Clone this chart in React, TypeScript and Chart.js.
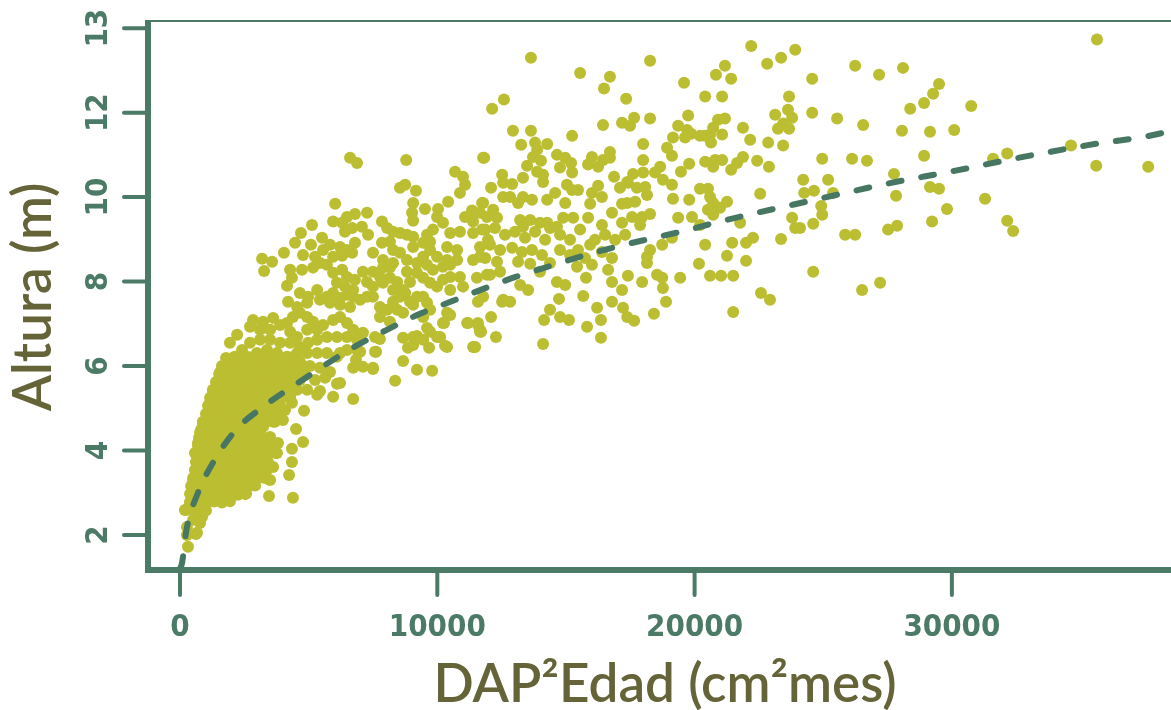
import { useEffect, useRef } from "react";
import { Chart, registerables } from "chart.js";

Chart.register(...registerables);

// ---- axis description ----
const xTickValues = [0, 10000, 20000, 30000];
const xTickLabels = ["0", "10000", "20000", "30000"];
const yTickValues = [2, 4, 6, 8, 10, 12, 14];
const yTickLabels = ["2", "4", "6", "8", "10", "12", "13"];
const xTitle = "DAP²Edad (cm²mes)";
const yTitle = "Altura (m)";

// ---- fitted curve ----
const curveX = [0, 80, 250, 680, 1320, 2180, 3290, 4410, 6740, 7950, 9190, 10460, 11890, 13040, 14340, 15670, 16990, 18310, 19670, 20970, 24920, 27500, 30090, 32670, 35280, 37740, 38600];
const curveY = [1.2, 1.34, 2.12, 2.97, 3.75, 4.49, 5.06, 5.53, 6.44, 6.83, 7.2, 7.51, 7.85, 8.11, 8.36, 8.61, 8.83, 9.02, 9.21, 9.42, 9.97, 10.32, 10.62, 10.94, 11.23, 11.46, 11.58];

// ---- observed trees [DAP²Edad, Altura] ----
const arbolesDispersos: number[][] = [
  [35640, 13.73], [26240, 13.11], [24570, 12.8], [27170, 12.9], [28100, 13.06], [29500, 12.68], [29270, 12.45], [28920, 12.23], [28380, 12.09], [30750, 12.16],
  [24570, 12.0], [25540, 11.86], [26550, 11.71], [28060, 11.57], [29150, 11.55], [30090, 11.59], [24960, 10.91], [26120, 10.91], [26700, 10.86], [28920, 10.98],
  [31600, 10.91], [32150, 11.03], [34630, 11.22], [35610, 10.74], [37630, 10.72], [24220, 10.41], [25190, 10.41], [27750, 10.55], [24260, 10.1], [24640, 10.15],
  [25380, 10.1], [29150, 10.24], [29500, 10.2], [27830, 10.03], [24920, 9.79], [24960, 9.58], [31290, 9.96], [29810, 9.72], [24610, 9.37], [24100, 9.27],
  [25850, 9.11], [26240, 9.11], [27520, 9.23], [27870, 9.32], [29230, 9.42], [32150, 9.44], [32380, 9.2], [26510, 7.8], [27210, 7.97], [24610, 8.23],
  [22580, 7.73], [22930, 7.57], [21500, 7.28],
];

const arbolesAltos: number[][] = [
  [13640, 13.3], [15550, 12.94], [16710, 12.85], [16480, 12.57], [18270, 13.23], [17340, 12.33], [12130, 12.09], [12590, 12.31], [22200, 13.58], [22820, 13.16],
  [23360, 13.3], [23910, 13.49], [21180, 13.11], [20830, 12.9], [21420, 12.8], [19590, 12.71], [20410, 12.38], [21070, 12.38], [23670, 12.38], [19750, 11.93],
  [18270, 11.86], [17650, 11.88], [17180, 11.76], [17490, 11.69], [16440, 11.71], [23130, 11.95], [23630, 12.07], [23790, 11.88], [23440, 11.74], [23240, 11.62],
  [23670, 11.62], [21880, 11.64], [22160, 11.36], [22860, 11.29], [23440, 11.22], [20910, 11.83], [20720, 11.64], [21180, 11.86], [20600, 11.48], [21070, 11.48],
  [20410, 11.45], [20640, 11.29], [19360, 11.69], [19710, 11.59], [19160, 11.41], [19630, 11.41], [19860, 11.5], [20210, 11.45], [12940, 11.57], [13640, 11.57],
  [15240, 11.45], [13260, 11.24], [13800, 11.29], [14270, 11.26], [13880, 11.12], [13720, 10.95], [14030, 10.86], [11820, 10.93], [18000, 11.26], [18000, 10.88],
  [18930, 11.17], [19120, 10.98], [20410, 10.84], [20800, 10.88], [21070, 10.88], [20720, 10.72], [21880, 10.95], [21650, 10.81], [21420, 10.65], [22430, 10.86],
  [22890, 10.72], [19790, 10.79], [19470, 10.6], [18660, 10.72], [18460, 10.58], [18770, 10.41], [19120, 10.29], [14650, 11.0], [14970, 10.93], [15200, 10.81],
  [14770, 10.7], [15240, 10.58], [13490, 10.74], [13880, 10.6], [14110, 10.53], [14110, 10.36], [16010, 10.95], [15860, 10.77], [16250, 10.72], [16440, 10.88],
  [16710, 11.07], [16710, 10.93], [16870, 10.48], [17610, 10.55], [18000, 10.58], [17380, 10.36], [12520, 10.53], [12560, 10.34], [12910, 10.31], [13330, 10.46],
  [12090, 10.22], [22550, 10.08], [20210, 10.2], [20520, 10.2], [20600, 10.0], [20720, 9.86], [21260, 9.89], [20990, 9.75], [20520, 9.7], [20720, 9.58],
  [19160, 9.96], [19790, 9.94], [17100, 10.22], [17410, 10.34], [17760, 10.22], [18080, 10.24], [18150, 10.05], [17690, 9.89], [17380, 9.86], [17180, 9.84],
  [16010, 10.1], [16250, 10.27], [16400, 10.0], [15940, 9.84], [14580, 10.1], [14270, 9.94], [14970, 9.86], [15240, 10.17], [15470, 10.17], [15040, 10.29],
  [11780, 9.86], [12170, 9.7], [12560, 10.0], [12830, 10.0], [13330, 10.0], [13680, 9.94], [13140, 9.86], [16790, 9.63], [17180, 9.39], [17570, 9.53],
  [17960, 9.53], [18270, 9.6], [17880, 9.34], [15860, 9.51], [16400, 9.34], [14650, 9.3], [14890, 9.51], [15280, 9.51], [13220, 9.46], [13610, 9.46],
  [13990, 9.39], [14270, 9.39], [13330, 9.3], [12320, 9.51], [11930, 9.53], [11660, 9.63], [19360, 9.51], [19900, 9.53], [20210, 9.34], [21770, 9.39],
  [23790, 9.51],
];

const arbolesMedios: number[][] = [
  [23910, 9.27], [23360, 9.01], [22270, 9.04], [22000, 8.92], [21460, 8.92], [21260, 8.61], [22000, 8.49], [20410, 8.87], [20170, 8.42], [20600, 8.14],
  [21030, 8.14], [21500, 8.14], [19440, 8.09], [18740, 8.87], [19120, 9.04], [18270, 8.75], [18150, 8.59], [18150, 8.44], [18540, 8.16], [18740, 8.09],
  [18770, 7.85], [18890, 7.52], [18420, 7.24], [17960, 7.99], [17410, 8.14], [17180, 7.8], [16790, 7.99], [16640, 8.28], [16790, 8.56], [16400, 8.7],
  [16790, 7.52], [17220, 7.38], [17380, 7.16], [17650, 7.07], [16210, 7.38], [16360, 7.09], [16360, 6.67], [15820, 6.93], [16010, 8.4], [15780, 8.09],
  [15670, 7.66], [15430, 8.35], [15120, 7.09], [14770, 7.16], [14380, 7.33], [14150, 7.09], [14730, 7.59], [14970, 7.92], [14650, 7.99], [14110, 6.52],
  [13990, 8.23], [14380, 8.44], [13530, 7.8], [13220, 7.92], [12830, 7.52], [12560, 7.57], [12090, 7.16], [12280, 6.69], [11660, 6.86], [11780, 7.64],
  [12050, 8.16], [12440, 8.23], [11860, 9.23], [12240, 9.27], [12630, 9.11], [13020, 9.18], [13410, 9.04], [13800, 9.18], [14190, 8.99], [12050, 8.87],
  [12440, 8.75], [12910, 8.8], [13290, 8.7], [13680, 8.75], [14070, 8.63], [11860, 8.56], [12320, 8.47], [13140, 8.47], [13610, 8.42], [14380, 9.27],
  [14770, 9.11], [15160, 8.99], [15550, 9.23], [15940, 8.87], [15740, 8.56], [16130, 8.99], [16520, 9.11], [16910, 8.99], [17300, 9.11], [14770, 8.75],
  [15160, 8.63], [15470, 8.75], [11580, 7.52], [12520, 7.52], [11190, 7.02], [11580, 7.02], [11700, 6.81], [11430, 6.45], [10500, 7.21], [10260, 7.02],
  [9600, 6.9], [9990, 6.69], [10300, 6.48], [9680, 6.43], [8670, 6.67], [9210, 6.71], [8860, 6.43], [8670, 6.12], [9210, 5.91], [9800, 5.89],
  [8360, 5.65], [7500, 5.93], [7620, 6.34], [7770, 6.64], [6730, 5.22], [6730, 5.96], [6840, 6.15], [7000, 6.34], [6220, 5.6], [6220, 6.31],
];

const arbolesBanda: number[][] = [
  [6610, 10.93], [6880, 10.81], [8790, 10.88], [11780, 10.93], [10690, 10.6], [11000, 10.48], [11080, 10.29], [10880, 10.1], [8550, 10.22], [8750, 10.29],
  [9170, 10.15], [6030, 9.84], [9060, 9.86], [9020, 9.63], [9060, 9.44], [9520, 9.72], [10030, 9.72], [10420, 9.89], [11740, 9.86], [11350, 9.68],
  [11080, 9.53], [11390, 9.42], [7270, 9.63], [6800, 9.6], [6490, 9.53], [6300, 9.39], [5950, 9.42], [6410, 9.18], [6690, 9.27], [7070, 9.3],
  [7310, 9.11], [5130, 9.34], [4700, 9.15], [5520, 9.04], [7850, 9.42], [8050, 9.27], [8280, 9.18], [8550, 9.15], [8820, 9.11], [9060, 9.06],
  [9990, 9.53], [10220, 9.39], [9830, 9.23], [9600, 9.11], [9720, 8.94], [10880, 9.18], [10500, 9.15], [11390, 9.15], [11740, 9.23], [11970, 8.99],
  [4470, 8.92], [4040, 8.68], [5090, 8.87], [4780, 8.63], [5250, 8.59], [5560, 8.75], [3190, 8.54], [3580, 8.47], [3270, 8.25], [5830, 8.87],
  [6220, 8.82], [5950, 8.59], [6300, 8.61], [6490, 8.75], [6800, 8.92], [6690, 8.68], [7850, 8.92], [8160, 8.94], [7500, 8.68], [7890, 8.51],
  [8280, 8.75], [8550, 8.68], [8280, 8.44], [8820, 8.51], [9060, 8.82], [9450, 8.92], [9720, 8.75], [9990, 8.59], [9450, 8.59], [9210, 8.44],
  [9600, 8.4], [9830, 8.28], [10380, 8.82], [10770, 8.75], [10770, 8.51], [10380, 8.51], [11390, 8.51], [11660, 8.59], [11660, 8.82], [4280, 8.28],
  [4740, 8.28], [5170, 8.33], [5440, 8.44], [5710, 8.4], [4350, 8.09], [4160, 7.9], [5950, 8.21], [6300, 8.28], [6490, 8.11], [6100, 7.97],
  [6410, 7.88], [6800, 8.04], [6730, 7.8], [7110, 8.23], [7500, 8.23], [7770, 8.11], [7270, 7.99], [7500, 7.88], [7890, 7.97], [8160, 8.09],
  [8440, 7.99], [8280, 7.8], [8670, 7.8], [8940, 7.99], [9210, 8.21], [8820, 8.23], [8160, 8.33], [7890, 8.33], [9450, 8.09], [9720, 7.97],
  [9990, 7.88], [10220, 8.04], [10500, 8.11], [10880, 8.11], [11000, 7.88], [10500, 7.8], [10220, 8.35], [10500, 8.4], [11540, 8.09], [11930, 8.16],
  [4660, 7.73], [4980, 7.64], [5330, 7.8], [4200, 7.52], [4550, 7.4], [4940, 7.5], [5440, 7.57], [5710, 7.64], [5950, 7.73], [6220, 7.61],
  [6490, 7.69], [6730, 7.64], [5830, 7.5], [6220, 7.45], [6610, 7.4], [7000, 7.57], [7270, 7.64], [7500, 7.64], [7770, 7.4], [8050, 7.33],
  [8280, 7.52], [8550, 7.64], [8750, 7.73], [8940, 7.52], [9210, 7.64], [9450, 7.64], [9060, 7.45], [9600, 7.5], [9720, 7.33], [9450, 7.16],
  [7770, 7.16], [8160, 7.05], [8440, 7.33], [8670, 7.26], [10380, 7.26], [10220, 7.02], [11160, 7.02], [11580, 6.97], [11660, 6.81], [11470, 6.45],
  [2840, 7.09], [3230, 7.05], [3620, 7.14], [3890, 6.97], [3500, 6.86], [3110, 6.86], [2720, 6.93],
];

const arbolesJovenes: number[][] = [
  [4160, 7.02], [4390, 7.16], [4660, 7.26], [4940, 7.16], [5170, 7.05], [4280, 6.81], [4550, 6.69], [4940, 6.86], [5330, 6.86], [5560, 6.97],
  [5950, 7.09], [6220, 7.16], [6490, 7.02], [6730, 6.86], [7110, 6.79], [6880, 6.62], [6490, 6.69], [6100, 6.69], [5710, 6.69], [5330, 6.62],
  [4980, 6.55], [4660, 6.45], [2220, 6.74], [1940, 6.55], [2410, 6.38], [2140, 6.22], [2720, 6.55], [3110, 6.62], [3500, 6.62], [3890, 6.55],
  [4280, 6.55], [2600, 6.22], [2990, 6.31], [3380, 6.38], [3770, 6.31], [4160, 6.22], [4550, 6.31], [4940, 6.31], [5330, 6.31], [5710, 6.31],
  [6100, 6.22], [6490, 6.38], [6880, 6.38], [7580, 6.69], [7580, 6.34], [7500, 5.96], [7110, 5.98], [9060, 6.69], [9450, 6.62], [9720, 6.81],
  [10110, 6.69], [10380, 6.45], [9060, 6.5], [11390, 6.45], [1560, 5.86], [1940, 5.74],
  [310, 1.72], [270, 2.19], [660, 2.05], [510, 2.36], [190, 2.59], [390, 2.76], [470, 2.9], [780, 2.28], [860, 2.43], [510, 3.3],
  [660, 3.54], [580, 3.94], [700, 4.18], [780, 4.42], [890, 4.65], [1090, 4.89], [1170, 5.13], [1280, 5.36], [1440, 5.6], [1940, 2.88],
  [2450, 3.0], [2800, 3.18], [3500, 3.3], [3620, 3.61], [3770, 3.94], [3810, 4.18], [3500, 4.32], [3230, 4.56], [3620, 4.68], [4000, 4.72],
  [4080, 4.96], [4350, 5.13], [4550, 5.44], [4160, 5.6], [4660, 5.67], [3460, 2.92], [4390, 2.88], [2530, 2.97], [4240, 3.42], [4350, 3.73],
  [4350, 4.04], [4780, 4.2], [4510, 4.51], [4820, 4.94], [5440, 5.41], [5950, 5.27], [6100, 5.58], [4940, 5.44], [5330, 5.32], [4660, 6.1],
  [5050, 6.0], [5440, 5.96], [5830, 5.86], [4860, 5.79], [5250, 5.67], [5640, 5.72],
];

const arbolesDensos: number[][] = [
  [270, 2.0], [620, 2.02], [230, 2.59], [510, 2.57], [780, 2.61], [1010, 2.58],
  [390, 2.78], [700, 2.8], [1010, 2.76], [1320, 2.79], [1630, 2.77], [1940, 2.8],
  [390, 2.97], [700, 2.95], [1010, 2.98], [1320, 2.96], [1630, 2.99], [1940, 2.97], [2250, 2.95], [2570, 2.98],
  [430, 3.16], [740, 3.18], [1050, 3.15], [1360, 3.17], [1670, 3.14], [1980, 3.18], [2290, 3.16], [2600, 3.15], [2920, 3.17],
  [510, 3.35], [820, 3.33], [1130, 3.36], [1440, 3.34], [1750, 3.37], [2060, 3.35], [2370, 3.33], [2680, 3.36], [2990, 3.34], [3300, 3.35],
  [580, 3.54], [890, 3.56], [1210, 3.53], [1520, 3.55], [1830, 3.52], [2140, 3.56], [2450, 3.54], [2760, 3.53], [3070, 3.55], [3380, 3.54],
  [620, 3.73], [930, 3.71], [1240, 3.74], [1560, 3.72], [1870, 3.75], [2180, 3.73], [2490, 3.71], [2800, 3.74], [3110, 3.72], [3420, 3.73],
  [620, 3.92], [930, 3.94], [1240, 3.91], [1560, 3.93], [1870, 3.9], [2180, 3.94], [2490, 3.92], [2800, 3.91], [3110, 3.93], [3420, 3.92], [3730, 3.94],
  [700, 4.11], [1010, 4.13], [1320, 4.1], [1630, 4.12], [1940, 4.09], [2250, 4.13], [2570, 4.11], [2880, 4.1], [3190, 4.12], [3500, 4.11],
  [740, 4.3], [1050, 4.32], [1360, 4.29], [1670, 4.31], [1980, 4.28], [2290, 4.32], [2600, 4.3], [2920, 4.29], [3230, 4.31],
  [820, 4.49], [1130, 4.51], [1440, 4.48], [1750, 4.5], [2060, 4.47], [2370, 4.51], [2680, 4.49], [2990, 4.48],
  [890, 4.68], [1210, 4.7], [1520, 4.67], [1830, 4.69], [2140, 4.66], [2450, 4.7], [2760, 4.68], [3070, 4.67], [3380, 4.69], [3690, 4.68],
  [1010, 4.87], [1320, 4.89], [1630, 4.86], [1940, 4.88], [2250, 4.85], [2570, 4.89], [2880, 4.87], [3190, 4.86], [3500, 4.88], [3810, 4.87],
  [1090, 5.06], [1400, 5.08], [1710, 5.05], [2020, 5.07], [2330, 5.04], [2640, 5.08], [2950, 5.06], [3270, 5.05], [3580, 5.07], [3890, 5.06],
  [1170, 5.25], [1480, 5.27], [1790, 5.24], [2100, 5.26], [2410, 5.23], [2720, 5.27], [3030, 5.25], [3340, 5.24], [3650, 5.26], [3970, 5.25], [4280, 5.27],
  [1280, 5.44], [1590, 5.46], [1910, 5.43], [2220, 5.45], [2530, 5.42], [2840, 5.46], [3150, 5.44], [3460, 5.43], [3770, 5.45], [4080, 5.44], [4390, 5.46],
  [1400, 5.62], [1710, 5.64], [2020, 5.61], [2330, 5.63], [2640, 5.6], [2950, 5.64], [3270, 5.62], [3580, 5.61], [3890, 5.63], [4200, 5.62], [4510, 5.64],
  [1520, 5.81], [1830, 5.83], [2140, 5.8], [2450, 5.82], [2760, 5.79], [3070, 5.83], [3380, 5.81], [3690, 5.8], [4000, 5.82], [4320, 5.81], [4630, 5.83],
  [1630, 6.0], [1940, 6.02], [2250, 5.99], [2570, 6.01], [2880, 5.98], [3190, 6.02], [3500, 6.0], [3810, 5.99], [4120, 6.01], [4430, 6.0], [4740, 6.02],
  [1790, 6.19], [2100, 6.21], [2410, 6.18], [2720, 6.2], [3030, 6.17], [3340, 6.21], [3650, 6.19], [3970, 6.18], [4280, 6.2],
];

const POINT_COLOR = "#bcbe32";
const AXIS_COLOR = "#4b7a66";
const CURVE_COLOR = "#477662";
const TITLE_COLOR = "#646438";
const TICK_FONT = 'bold 31px "Liberation Sans Narrow", "DejaVu Sans Condensed", "Roboto Condensed", "Liberation Sans", sans-serif';
const TITLE_FONT = '600 53px "Lato", "Noto Sans", sans-serif';

const axesPlugin = {
  id: "baseAxes",
  afterDraw(chart: any) {
    const { ctx, chartArea } = chart;
    const xs = chart.scales.x;
    const ys = chart.scales.y;
    const { left, right, top, bottom } = chartArea;
    ctx.save();
    ctx.strokeStyle = AXIS_COLOR;
    ctx.fillStyle = AXIS_COLOR;
    // thin top frame
    ctx.lineWidth = 2;
    ctx.beginPath();
    ctx.moveTo(left, top);
    ctx.lineTo(right, top);
    ctx.stroke();
    // thick axes
    ctx.lineWidth = 6;
    ctx.lineCap = "butt";
    ctx.beginPath();
    ctx.moveTo(left, top - 1);
    ctx.lineTo(left, bottom + 3);
    ctx.moveTo(left - 3, bottom);
    ctx.lineTo(right, bottom);
    ctx.stroke();
    // ticks
    ctx.lineWidth = 4;
    ctx.lineCap = "round";
    ctx.beginPath();
    yTickValues.forEach((v) => {
      const y = ys.getPixelForValue(v);
      ctx.moveTo(left - 24, y);
      ctx.lineTo(left - 3, y);
    });
    xTickValues.forEach((v) => {
      const x = xs.getPixelForValue(v);
      ctx.moveTo(x, bottom + 3);
      ctx.lineTo(x, bottom + 25);
    });
    ctx.stroke();
    // tick labels
    ctx.font = TICK_FONT;
    ctx.textAlign = "center";
    ctx.textBaseline = "alphabetic";
    xTickValues.forEach((v, i) => {
      ctx.fillText(xTickLabels[i], xs.getPixelForValue(v), 636);
    });
    yTickValues.forEach((v, i) => {
      ctx.save();
      ctx.translate(107, ys.getPixelForValue(v));
      ctx.rotate(-Math.PI / 2);
      ctx.fillText(yTickLabels[i], 0, 0);
      ctx.restore();
    });
    // titles
    ctx.fillStyle = TITLE_COLOR;
    ctx.font = TITLE_FONT;
    ctx.fillText(xTitle, 665, 702);
    ctx.save();
    ctx.translate(51, 297);
    ctx.rotate(-Math.PI / 2);
    ctx.fillText(yTitle, 0, 0);
    ctx.restore();
    ctx.restore();
  },
};

export default function App() {
  const canvasRef = useRef<HTMLCanvasElement | null>(null);

  useEffect(() => {
    const canvas = canvasRef.current;
    if (!canvas) return;
    const puntos = [
      ...arbolesDispersos,
      ...arbolesAltos,
      ...arbolesMedios,
      ...arbolesBanda,
      ...arbolesJovenes,
      ...arbolesDensos,
    ].map(([x, y]) => ({ x, y }));
    const curva = curveX.map((x, i) => ({ x, y: curveY[i] }));

    const chart = new Chart(canvas, {
      type: "scatter",
      data: {
        datasets: [
          {
            type: "line",
            data: curva,
            borderColor: CURVE_COLOR,
            borderWidth: 6,
            borderDash: [13, 20],
            borderCapStyle: "round",
            pointRadius: 0,
            fill: false,
            cubicInterpolationMode: "monotone",
            order: 0,
          } as any,
          {
            data: puntos,
            backgroundColor: POINT_COLOR,
            borderWidth: 0,
            pointRadius: 6,
            pointHoverRadius: 6,
            order: 1,
          },
        ],
      },
      options: {
        animation: false,
        responsive: false,
        maintainAspectRatio: false,
        events: [],
        layout: { autoPadding: false, padding: { left: 148, top: 21, right: 0, bottom: 140 } },
        scales: {
          x: { type: "linear", min: -1244, max: 38516, display: false },
          y: { type: "linear", min: 1.17, max: 14.17, display: false },
        },
        plugins: {
          legend: { display: false },
          tooltip: { enabled: false },
        },
      },
      plugins: [axesPlugin],
    });
    return () => chart.destroy();
  }, []);

  return (
    <div style={{ position: "fixed", left: 0, top: 0, width: 1171, height: 710, background: "#ffffff" }}>
      <canvas ref={canvasRef} width={1171} height={710} style={{ display: "block", width: 1171, height: 710 }} />
    </div>
  );
}
